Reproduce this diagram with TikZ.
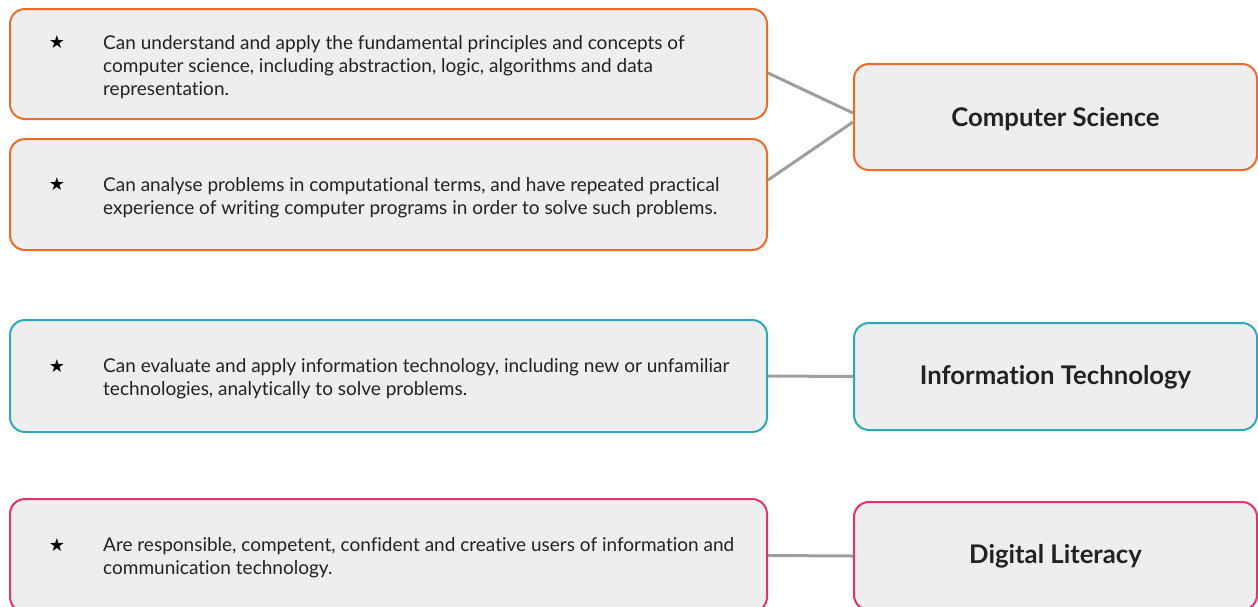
\documentclass[tikz,border=0pt]{standalone}
\usepackage{fontspec}
\setmainfont{Lato}[RawFeature=-liga]
\newfontfamily\symfont{DejaVu Sans}
\usetikzlibrary{calc}
\definecolor{boxfill}{HTML}{EEEEEE}
\definecolor{csorange}{HTML}{EE6A2C}
\definecolor{itteal}{HTML}{2AAAB8}
\definecolor{dlpink}{HTML}{E2336B}
\definecolor{linkgray}{HTML}{9E9E9E}
\definecolor{textdark}{HTML}{222222}
\begin{document}
\begin{tikzpicture}[x=1pt,y=-1pt,
  card/.style={draw=#1, line width=2pt, fill=boxfill, rounded corners=15pt, inner sep=0pt, rectangle},
  leftcard/.style={card=#1, minimum width=757pt},
  rightcard/.style={card=#1, minimum width=403pt},
  body/.style={font=\fontsize{19}{23}\selectfont, text=textdark, align=left, anchor=west, inner sep=0pt},
  heading/.style={font=\fontsize{25.7}{30}\selectfont\bfseries, text=textdark, inner sep=0pt},
  starmark/.style={font=\symfont\fontsize{18}{18}\selectfont, text=black, inner sep=0pt},
  link/.style={draw=linkgray, line width=3pt}]
\clip (0,0) rectangle (1258,606);
\fill[white] (0,0) rectangle (1258,606);

% left cards
\node[leftcard=csorange, minimum height=110pt] (b1) at (388.5,64) {};
\node[leftcard=csorange, minimum height=111pt] (b2) at (388.5,194.5) {};
\node[leftcard=itteal, minimum height=112pt] (itl) at (388.5,376) {};
\node[leftcard=dlpink, minimum height=113pt] (dll) at (388.5,555.5) {};

% right cards
\node[rightcard=csorange, minimum height=106pt] (cs) at (1055.5,117) {};
\node[rightcard=itteal, minimum height=107pt] (itr) at (1055.5,376.5) {};
\node[rightcard=dlpink, minimum height=108pt] (dlr) at (1055.5,556) {};

% connectors
\draw[link] ($(b1.east)+(0,9)$) -- ($(cs.west)+(0,-4)$);
\draw[link] ($(b2.east)+(0,-14.5)$) -- ($(cs.west)+(0,5)$);
\draw[link] (itl.east) -- (itr.west);
\draw[link] (dll.east) -- (dlr.west);

% stars
\node[starmark] (s1) at (57,42) {★};
\node[starmark] (s2) at (57,184) {★};
\node[starmark] (s3) at (57,366) {★};
\node[starmark] (s4) at (57,545) {★};

% body texts
\node[body] (t1) at (103,67) {Can understand and apply the fundamental principles and concepts of\\computer science, including abstraction, logic, algorithms and data\\representation.};
\node[body] (t2) at (103,197.5) {Can analyse problems in computational terms, and have repeated practical\\experience of writing computer programs in order to solve such problems.};
\node[body] (t3) at (103,378.5) {Can evaluate and apply information technology, including new or unfamiliar\\technologies, analytically to solve problems.};
\node[body] (t4) at (103,557.5) {Are responsible, competent, confident and creative users of information and\\communication technology.};

% headings
\node[heading] (h1) at ($(cs.center)+(0,2)$) {Computer Science};
\node[heading] (h2) at ($(itr.center)+(0,1)$) {Information Technology};
\node[heading] (h3) at (1055.5,556) {Digital Literacy};
\end{tikzpicture}
\end{document}
